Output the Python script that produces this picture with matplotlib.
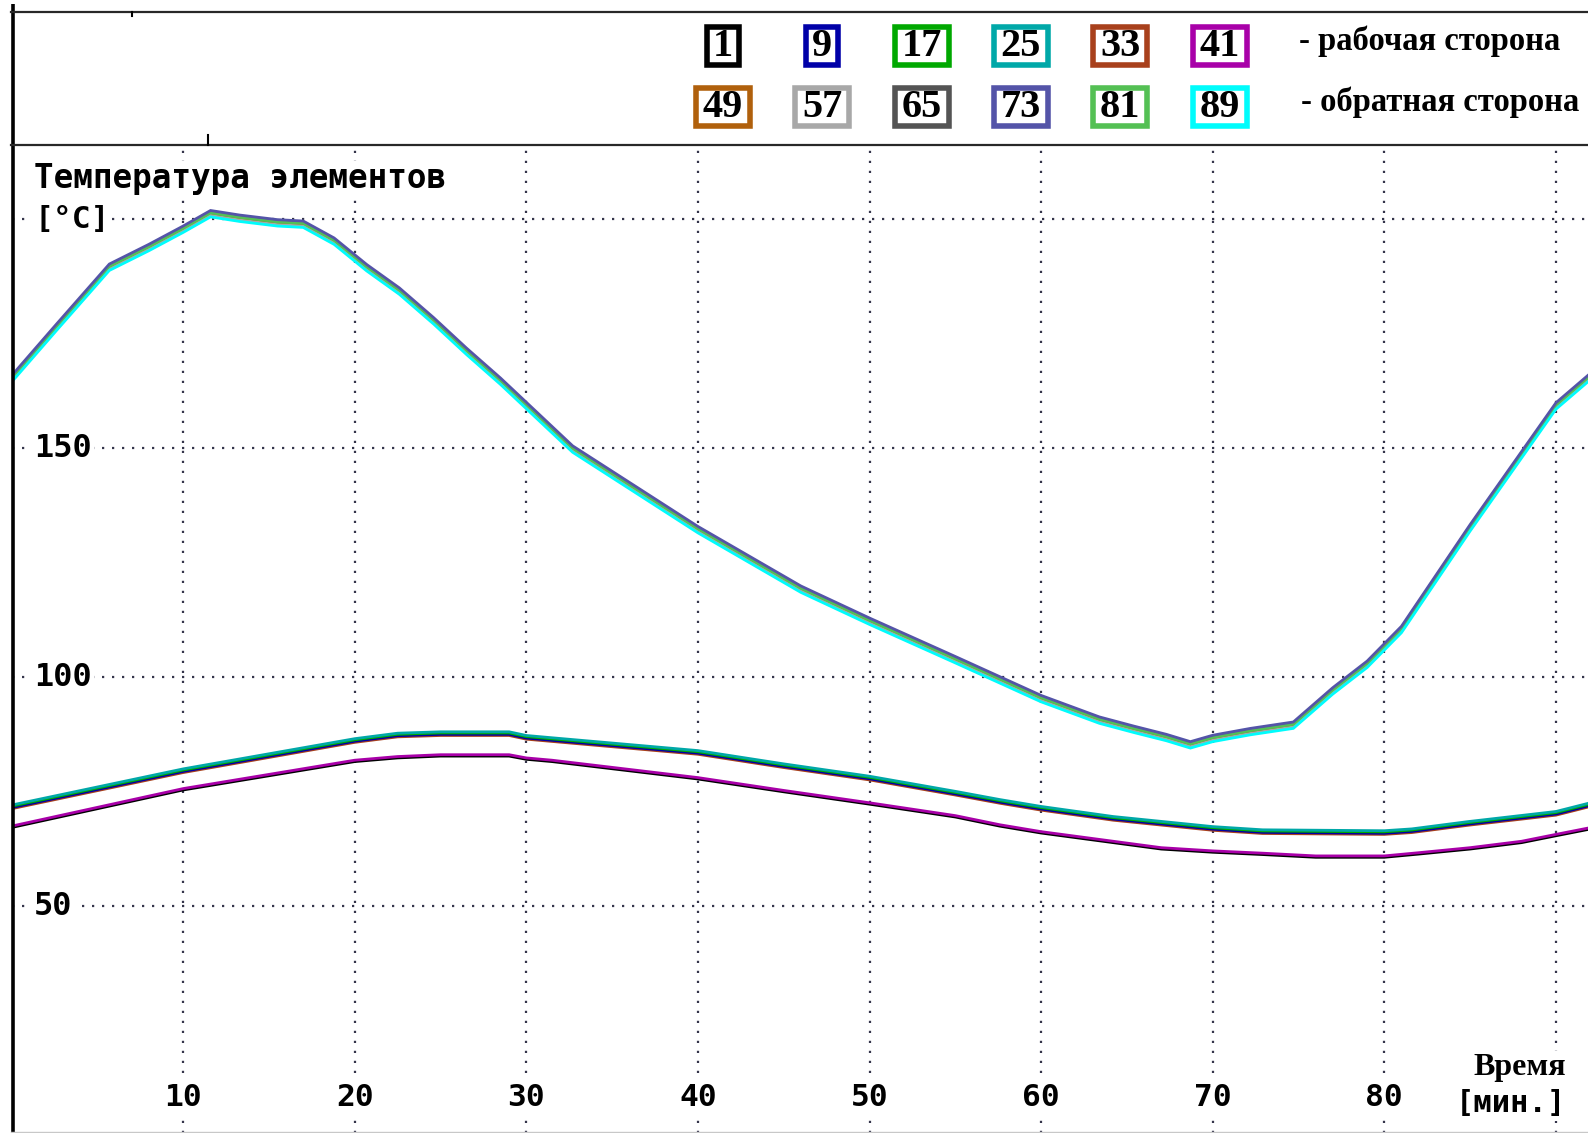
import matplotlib
matplotlib.use("Agg")
import matplotlib.pyplot as plt
from matplotlib.patches import Rectangle
import numpy as np

# ---- data -------------------------------------------------------------
# time axis [min] and temperature [°C] of the three groups of elements
time_hot = [0, 2.6, 5.7, 8.0, 10.0, 11.6, 13.3, 15.5, 17.0, 18.8, 20.7, 22.6,
            24.6, 26.5, 28.5, 32.7, 40.0, 46.0, 50.0, 55.0, 60.0, 63.4, 65.4,
            67.3, 68.7, 70.0, 72.2, 74.7, 77.0, 79.0, 81.0, 85.0, 90.0, 91.9]
temp_hot = [165.3, 176.5, 189.7, 194.0, 198.0, 201.4, 200.4, 199.4, 199.1,
            195.4, 189.6, 184.5, 178.0, 171.4, 164.8, 150.0, 132.4, 119.4,
            112.4, 104.0, 95.5, 90.8, 88.8, 87.0, 85.4, 86.8, 88.3, 89.7,
            97.2, 103.0, 110.6, 132.8, 159.4, 165.5]

time_mid = [0, 10, 20, 22.5, 25, 29, 30, 31.5, 40, 45, 50, 55, 57.6, 60,
            64.2, 70, 72.9, 80, 81.6, 84.9, 90, 91.9]
temp_mid = [71.6, 79.5, 86.1, 87.3, 87.6, 87.6, 86.8, 86.3, 83.5, 80.6, 77.9,
            74.6, 72.8, 71.3, 69.1, 66.9, 66.2, 66.0, 66.4, 68.0, 70.2, 72.0]

time_low = [0, 10, 20, 22.5, 25, 29, 30, 31.5, 40, 45, 50, 55, 57.6, 60,
            64.2, 67, 70, 72.9, 76, 80, 82, 85, 88, 90, 91.9]
temp_low = [67.3, 75.5, 81.7, 82.5, 82.9, 82.9, 82.2, 81.7, 77.9, 75.1, 72.4,
            69.6, 67.6, 66.1, 64.0, 62.6, 61.9, 61.4, 60.8, 60.8, 61.5, 62.6,
            64.0, 65.5, 66.9]

# element numbers, colours and small deviation of each element from its group
elements_work = [1, 9, 17, 25, 33, 41]
elements_back = [49, 57, 65, 73, 81, 89]
element_colors = {
    1: "#000000", 9: "#0000a8", 17: "#00a800", 25: "#00a8a8",
    33: "#a8401c", 41: "#a800a8",
    49: "#b0600c", 57: "#a8a8a8", 65: "#545454", 73: "#5454a8",
    81: "#54c054", 89: "#00fcfc",
}
group_hot = {49: -0.2, 57: -0.6, 65: 0.2, 81: 0.0, 73: 0.5, 89: -0.9}
group_mid = {33: -0.35, 9: -0.1, 17: 0.2, 25: 0.45}
group_low = {1: -0.15, 41: 0.15}

x_ticks = [10, 20, 30, 40, 50, 60, 70, 80]
x_grid = [10, 20, 30, 40, 50, 60, 70, 80, 90]
y_ticks = [50, 100, 150]
y_grid = [50, 100, 150, 200]

title_text = "Температура элементов"
unit_text = "[°C]"
xlabel_top = "Время"
xlabel_bottom = "[мин.]"
legend_work = "- рабочая сторона"
legend_back = "- обратная сторона"

# ---- figure -----------------------------------------------------------
W, H = 1588, 1133
fig = plt.figure(figsize=(W / 100, H / 100), dpi=100)
fig.patch.set_facecolor("white")

mono = dict(family="DejaVu Sans Mono", weight="bold")
serif = dict(family="Liberation Serif", weight="bold")

left_px, top_px = 11.5, 145
ax = fig.add_axes([left_px / W, 0, 1 - left_px / W, (H - top_px) / H])
ax.set_xlim(0, 91.87)
ax.set_ylim(0.44, 216.2)
ax.set_facecolor("white")
for s in ax.spines.values():
    s.set_visible(False)
ax.set_xticks([])
ax.set_yticks([])

grid_kw = dict(color="#34344a", lw=1.6, linestyle=(0, (1, 3.5)), zorder=1)
for gx in x_grid:
    ax.axvline(gx, **grid_kw)
for gy in y_grid:
    ax.axhline(gy, **grid_kw)

lw = 2.0
for t, v, grp in ((time_low, temp_low, group_low),
                  (time_mid, temp_mid, group_mid),
                  (time_hot, temp_hot, group_hot)):
    for el, dv in grp.items():
        ax.plot(t, np.asarray(v) + dv, color=element_colors[el], lw=lw,
                zorder=3, solid_joinstyle="miter")

box = dict(facecolor="white", edgecolor="none", pad=1.5)
ytr = ax.get_yaxis_transform()
xtr = ax.get_xaxis_transform()
for v in y_ticks:
    ax.text(0.0143, v, str(v), transform=ytr, ha="left", va="center",
            fontsize=23, bbox=box, zorder=5, **mono)
ax.text(0.0143, 200, unit_text, transform=ytr, ha="left", va="center",
        fontsize=22.5, bbox=box, zorder=5, **mono)
ax.text(0.0143, 0.9656, title_text, transform=ax.transAxes, ha="left",
        va="center", fontsize=23.5, bbox=box, zorder=5, **mono)
for v in x_ticks:
    ax.text(v, 0.0364, str(v), transform=xtr, ha="center", va="center",
            fontsize=22.5, bbox=box, zorder=5, **mono)
ax.text(0.986, 0.0658, xlabel_top, transform=ax.transAxes, ha="right",
        va="center", fontsize=23, bbox=box, zorder=5, **serif)
ax.text(0.986, 0.0294, xlabel_bottom, transform=ax.transAxes, ha="right",
        va="center", fontsize=22, bbox=box, zorder=5, **mono)

# ---- frame and legend panel (pixel coordinates) ----------------------
ov = fig.add_axes([0, 0, 1, 1], zorder=10)
ov.set_xlim(0, W)
ov.set_ylim(H, 0)
ov.axis("off")
ov.patch.set_alpha(0)

ov.plot([12.5, 12.5], [4, H], color="black", lw=2.6, solid_capstyle="butt")
ov.plot([11, W], [12, 12], color="#282828", lw=1.6)
ov.plot([11, W], [145, 145], color="#282828", lw=1.6)
ov.plot([132, 132], [12, 16], color="black", lw=1.5)
ov.plot([208, 208], [135, 145], color="black", lw=1.5)
ov.plot([11, W], [H - 1, H - 1], color="#c8c8c8", lw=1.0)

row_y = [45.5, 106.5]
col_x0, col_dx = 723, 99.3
box_h = 43
for r, elements in enumerate((elements_work, elements_back)):
    for c, el in enumerate(elements):
        cx = col_x0 + c * col_dx
        cy = row_y[r]
        bw = 37 if el < 10 else 59
        ov.add_patch(Rectangle((cx - (bw - 5) / 2, cy - (box_h - 5) / 2),
                               bw - 5, box_h - 5, facecolor="white",
                               edgecolor=element_colors[el], lw=4.0))
        ov.text(cx, cy + 1, str(el), ha="center", va="center", fontsize=29,
                color="black", **serif)
ov.text(1299, 41, legend_work, ha="left", va="center", fontsize=23.5, **serif)
ov.text(1301, 102, legend_back, ha="left", va="center", fontsize=23.5, **serif)

fig.savefig("out.png", dpi=100, facecolor="white")
